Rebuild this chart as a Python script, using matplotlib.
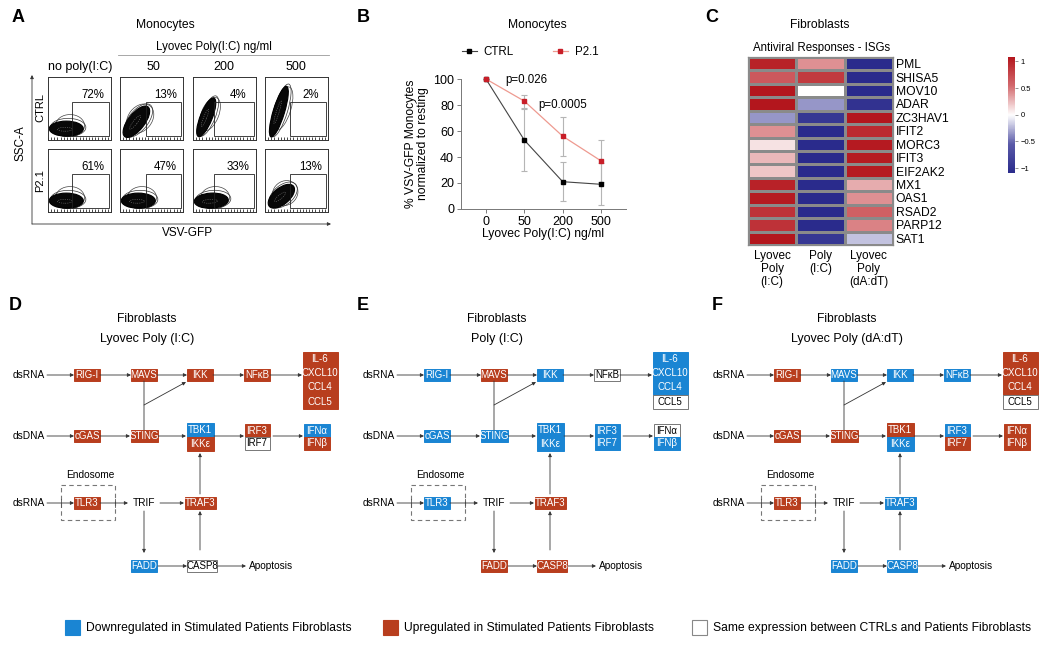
import numpy as np
import matplotlib
matplotlib.use("Agg")
import matplotlib.pyplot as plt
from matplotlib.patches import Ellipse, Rectangle
from matplotlib.colors import LinearSegmentedColormap
from matplotlib import font_manager

W, H = 1050, 647
_names = {f.name for f in font_manager.fontManager.ttflist}
MAIN = "Liberation Sans" if "Liberation Sans" in _names else "DejaVu Sans"
NARROW = "Liberation Sans Narrow" if "Liberation Sans Narrow" in _names else MAIN
plt.rcParams["font.family"] = [MAIN, "DejaVu Sans"]

# ── data ────────────────────────────────────────────────
# A: flow cytometry gates
flow_cols = ["no poly(I:C)", "50", "200", "500"]
flow_rows = ["CTRL", "P2.1"]
flow_pct = [[72, 13, 4, 2],
            [61, 47, 33, 13]]

# B: % VSV-GFP monocytes
doses = ["0", "50", "200", "500"]
ctrl_mean = [100, 53, 21, 19]
ctrl_sd = [0, 24, 15, 16]
p21_mean = [100, 83, 56, 37]
p21_sd = [0, 5, 15, 16]
p_labels = ["p=0.026", "p=0.0005"]

# C: ISG heatmap (z-scores)
isg_genes = ["PML", "SHISA5", "MOV10", "ADAR", "ZC3HAV1", "IFIT2", "MORC3",
             "IFIT3", "EIF2AK2", "MX1", "OAS1", "RSAD2", "PARP12", "SAT1"]
isg_conditions = ["Lyovec\nPoly\n(I:C)", "Poly\n(I:C)", "Lyovec\nPoly\n(dA:dT)"]
isg_z = [[1.00, 0.40, -1.10],
         [0.65, 0.85, -1.10],
         [1.10, 0.00, -1.10],
         [1.20, -0.35, -1.00],
         [-0.35, -0.95, 1.20],
         [0.40, -1.10, 0.95],
         [0.10, -1.10, 1.05],
         [0.25, -1.10, 1.05],
         [0.20, -1.10, 1.05],
         [1.00, -1.10, 0.30],
         [1.05, -1.10, 0.40],
         [0.90, -1.10, 0.60],
         [0.90, -1.10, 0.45],
         [1.20, -0.95, -0.20]]

# D/E/F: pathway node states  (D = down, U = up, S = same)
path_nodes = ["RIG-I", "MAVS", "IKK", "NFκB", "IL-6", "CXCL10", "CCL4", "CCL5",
              "cGAS", "STING", "TBK1", "IKKε", "IRF3", "IRF7", "IFNα", "IFNβ",
              "TLR3", "TRAF3", "FADD", "CASP8"]
states_d = ["U", "U", "U", "U", "U", "U", "U", "U", "U", "U",
            "D", "U", "U", "S", "D", "U", "U", "U", "D", "S"]
states_e = ["D", "U", "D", "S", "D", "D", "D", "S", "D", "D",
            "D", "D", "D", "D", "S", "D", "D", "U", "U", "U"]
states_f = ["U", "D", "D", "D", "U", "U", "U", "S", "U", "U",
            "U", "D", "D", "U", "U", "U", "U", "D", "D", "D"]
legend_labels = ["Downregulated in Stimulated Patients Fibroblasts",
                 "Upregulated in Stimulated Patients Fibroblasts",
                 "Same expression between CTRLs and Patients Fibroblasts"]

BLUE = "#1a85d3"
RED = "#b83e1e"
STATE_COL = {"D": BLUE, "U": RED, "S": "white"}


def px_axes(fig, x0, y0, x1, y1):
    return fig.add_axes([x0 / W, 1 - y1 / H, (x1 - x0) / W, (y1 - y0) / H])


fig = plt.figure(figsize=(W / 100, H / 100), dpi=100)
ov = fig.add_axes([0, 0, 1, 1])
ov.set_xlim(0, W)
ov.set_ylim(H, 0)
ov.axis("off")


def arrow(x0, y0, x1, y1, head=True, color="#333333"):
    ov.annotate("", xy=(x1, y1), xytext=(x0, y0),
                arrowprops=dict(arrowstyle="-|>" if head else "-", color=color,
                                lw=0.6, mutation_scale=5, shrinkA=0, shrinkB=0))


# panel letters
for lab, (x, y) in zip("ABCDEF", [(18, 17), (363, 17), (712, 17),
                                  (15, 305), (363, 305), (717, 305)]):
    ov.text(x, y, lab, fontsize=13, fontweight="bold", ha="center", va="center")

# ── A: flow plots ───────────────────────────────────────
ov.text(165, 25, "Monocytes", fontsize=8.7, ha="center", va="center")
ov.text(214, 47, "Lyovec Poly(I:C) ng/ml", fontsize=8.3, ha="center", va="center")
ov.plot([118, 329], [55, 55], color="#999999", lw=0.6)
for x, lab in zip([80, 153, 224, 296], flow_cols):
    ov.text(x, 67, lab, fontsize=9, ha="center", va="center")
arrow(32, 224, 32, 75)
arrow(32, 224, 331, 224)
ov.text(20, 143, "SSC-A", fontsize=8.5, rotation=90, ha="center", va="center")
ov.text(188, 233, "VSV-GFP", fontsize=8.5, ha="center", va="center")
ov.text(40, 108, flow_rows[0], fontsize=8, rotation=90, ha="center", va="center")
ov.text(40, 181, flow_rows[1], fontsize=8, rotation=90, ha="center", va="center")

col_x = [48, 120, 193, 265]
row_y = [77, 149]
gate_x = [0.38, 0.42, 0.34, 0.39]
# blob shape (cx, cy, w, h, angle) per plot
blob_shape = [[(0.29, 0.18, 0.54, 0.24, 0), (0.26, 0.29, 0.6, 0.26, 52),
               (0.21, 0.36, 0.66, 0.19, 68), (0.22, 0.45, 0.84, 0.18, 73)],
              [(0.29, 0.18, 0.54, 0.24, 0), (0.29, 0.18, 0.54, 0.24, 0),
               (0.29, 0.18, 0.54, 0.24, 3), (0.26, 0.25, 0.5, 0.26, 40)]]
for r in range(2):
    for c in range(4):
        ax = px_axes(fig, col_x[c], row_y[r], col_x[c] + 63, row_y[r] + 63)
        ax.set_xlim(0, 1)
        ax.set_ylim(0, 1)
        cx, cy, w, h, ang = blob_shape[r][c]
        ax.add_patch(Ellipse((cx + 0.06, cy + 0.05), w * 0.85, h * 1.45, angle=ang,
                             fc="none", ec="#444444", lw=0.5))
        ax.add_patch(Ellipse((cx + 0.03, cy + 0.02), w * 1.04, h * 1.2, angle=ang,
                             fc="none", ec="#333333", lw=0.5))
        ax.add_patch(Ellipse((cx, cy), w, h, angle=ang, fc="#080808", ec="black", lw=0.8))
        ax.add_patch(Ellipse((cx - 0.02, cy - 0.01), w * 0.45, h * 0.25, angle=ang,
                             fc="none", ec="#777777", lw=0.4, ls=(0, (2, 2))))
        ax.add_patch(Rectangle((gate_x[c], 0.06), 0.97 - gate_x[c], 0.54,
                               fc="none", ec="#222222", lw=0.6))
        ax.text(0.72, 0.72, f"{flow_pct[r][c]}%", fontsize=8.3, ha="center", va="center")
        ax.set_xticks(np.linspace(0, 1, 5))
        ax.set_xticks(np.linspace(0, 1, 21), minor=True)
        ax.set_yticks([])
        ax.tick_params(axis="x", which="both", direction="in", length=2, width=0.5,
                       labelbottom=False, top=False)
        for s in ax.spines.values():
            s.set_linewidth(0.7)
            s.set_color("#333333")

# ── B: line plot ────────────────────────────────────────
ax_b = px_axes(fig, 461, 79, 626, 209)
xb = np.arange(len(doses))
ax_b.errorbar(xb, ctrl_mean, yerr=ctrl_sd, fmt="none", ecolor="#b5b5b5",
              elinewidth=0.8, capsize=2, capthick=0.8, zorder=2)
ax_b.errorbar(xb, p21_mean, yerr=p21_sd, fmt="none", ecolor="#b5b5b5",
              elinewidth=0.8, capsize=2, capthick=0.8, zorder=2)
l_ctrl, = ax_b.plot(xb, ctrl_mean, color="#444444", lw=0.8, marker="s", ms=2.8,
                    mfc="black", mec="black", zorder=3, clip_on=False)
l_p21, = ax_b.plot(xb, p21_mean, color="#ee9a90", lw=0.9, marker="s", ms=3.2,
                   mfc="#c81e28", mec="#c81e28", zorder=4, clip_on=False)
ax_b.set_xlim(-0.65, 3.65)
ax_b.set_ylim(0, 100)
ax_b.set_yticks([0, 20, 40, 60, 80, 100])
ax_b.set_xticks(xb)
ax_b.set_xticklabels(doses)
ax_b.tick_params(labelsize=9, length=3, width=0.6, color="#666666", pad=2)
for s in ["top", "right"]:
    ax_b.spines[s].set_visible(False)
for s in ["left", "bottom"]:
    ax_b.spines[s].set_linewidth(0.7)
    ax_b.spines[s].set_color("#777777")
ax_b.set_xlabel("Lyovec Poly(I:C) ng/ml", fontsize=8.7, labelpad=0)
ax_b.set_ylabel("% VSV-GFP Monocytes\nnormalized to resting", fontsize=8.7,
                labelpad=3, linespacing=1.0)
ax_b.text(1.05, 99, p_labels[0], fontsize=8.3, ha="center", va="center")
ax_b.text(2.0, 80, p_labels[1], fontsize=8.3, ha="center", va="center")
ov.text(537, 25, "Monocytes", fontsize=8.7, ha="center", va="center")
ax_b.legend([l_ctrl, l_p21], ["CTRL", "P2.1"], ncol=2, loc="center",
            bbox_to_anchor=(530 / W, 1 - 52 / H), bbox_transform=fig.transFigure,
            frameon=False, fontsize=8.3, handlelength=1.3, columnspacing=3.4,
            handletextpad=0.6)

# ── C: heatmap ──────────────────────────────────────────
cmap = LinearSegmentedColormap.from_list(
    "bwr_isg", ["#2a2b8c", "#5a5aa8", "#ffffff", "#d36a6e", "#b3161d"])
ax_c = px_axes(fig, 748, 57, 893, 245)
z = np.array(isg_z)
mesh = ax_c.pcolormesh(z, cmap=cmap, vmin=-1.09, vmax=1.08,
                       edgecolors="#8a8a8a", linewidth=0.9)
ax_c.set_xlim(0, z.shape[1])
ax_c.set_ylim(z.shape[0], 0)
ax_c.set_xticks([])
ax_c.yaxis.tick_right()
ax_c.set_yticks(np.arange(len(isg_genes)) + 0.5)
ax_c.set_yticklabels(isg_genes, fontsize=8.7)
ax_c.tick_params(axis="y", length=0, pad=2)
for s in ax_c.spines.values():
    s.set_color("#8a8a8a")
    s.set_linewidth(0.9)
for i, lab in enumerate(isg_conditions):
    ov.text(748 + (i + 0.5) * 145 / 3, 250, lab, fontsize=8.5, ha="center", va="top",
            linespacing=1.1, family=[NARROW, "DejaVu Sans"])
ov.text(820, 25, "Fibroblasts", fontsize=8.7, ha="center", va="center")
ov.text(822, 48, "Antiviral Responses - ISGs", fontsize=8.3, ha="center", va="center",
        family=[NARROW, "DejaVu Sans"])
cax = px_axes(fig, 1008, 57, 1015, 173)
cb = fig.colorbar(mesh, cax=cax, ticks=[-1, -0.5, 0, 0.5, 1])
cb.ax.set_yticklabels(["−1", "−0.5", "0", "0.5", "1"])
cb.ax.tick_params(labelsize=5.5, length=2, width=0.5, pad=2, color="#666666")
cb.outline.set_visible(False)

# ── D/E/F: pathway diagrams ─────────────────────────────
layout = [  # nodes stacked, centre x, top y, width, part height
    (["RIG-I"], 87, 369, 26, 12),
    (["MAVS"], 144, 369, 26, 12),
    (["IKK"], 200, 369, 26, 12),
    (["NFκB"], 257, 369, 26, 12),
    (["IL-6", "CXCL10", "CCL4", "CCL5"], 320, 352, 35, 14.2),
    (["cGAS"], 87, 430, 26, 12),
    (["STING"], 144, 430, 27, 12),
    (["TBK1", "IKKε"], 200, 423, 27, 14),
    (["IRF3", "IRF7"], 257, 424, 25, 13),
    (["IFNα", "IFNβ"], 317, 424, 26, 13),
    (["TLR3"], 87, 497, 26, 12),
    (["TRAF3"], 200, 497, 31, 12),
    (["FADD"], 144, 560, 26, 12),
    (["CASP8"], 202, 560, 30, 12),
]
TXT = dict(family=[NARROW, "DejaVu Sans"])


def draw_pathway(ox, states, subtitle):
    st = dict(zip(path_nodes, states))
    ov.text(ox + 147, 319, "Fibroblasts", fontsize=8.7, ha="center", va="center")
    ov.text(ox + 147, 339, subtitle, fontsize=9, ha="center", va="center", **TXT)
    for names, cx, top, w, ph in layout:
        for k, n in enumerate(names):
            fc = STATE_COL[st[n]]
            ec = "#777777" if st[n] == "S" else fc
            ov.add_patch(Rectangle((ox + cx - w / 2, top + k * ph), w, ph, fc=fc,
                                   ec=ec, lw=0.7, zorder=3))
            ov.text(ox + cx, top + (k + 0.5) * ph, n, fontsize=7, ha="center",
                    va="center", color="black" if st[n] == "S" else "white",
                    zorder=4, **TXT)
    for lab, x, y in [("dsRNA", 29, 375), ("dsDNA", 29, 436), ("dsRNA", 29, 503),
                      ("TRIF", 144, 503)]:
        ov.text(ox + x, y, lab, fontsize=7.3, ha="center", va="center", **TXT)
    ov.text(ox + 249, 566, "Apoptosis", fontsize=7.3, ha="left", va="center", **TXT)
    ov.text(ox + 90, 475, "Endosome", fontsize=7.3, ha="center", va="center", **TXT)
    ov.add_patch(Rectangle((ox + 61, 485), 54, 35, fc="none", ec="#777777", lw=0.8,
                           ls=(0, (4, 3))))
    for x in [61, 115]:
        ov.plot([ox + x, ox + x], [499, 507], color="#555555", lw=0.6)
    for x0, y0, x1, y1 in [(47, 375, 74, 375), (100, 375, 131, 375), (157, 375, 187, 375),
                           (213, 375, 244, 375), (270, 375, 302, 375),
                           (47, 436, 74, 436), (100, 436, 130, 436), (158, 436, 186, 436),
                           (214, 436, 244, 436), (273, 436, 303, 436),
                           (144, 405, 186, 382),
                           (47, 503, 74, 503), (100, 503, 128, 503), (160, 503, 184, 503),
                           (200, 494, 200, 453), (144, 511, 144, 553),
                           (158, 566, 187, 566), (218, 566, 246, 566),
                           (200, 550, 200, 511)]:
        arrow(ox + x0, y0, ox + x1, y1)
    arrow(ox + 144, 430, ox + 144, 381, head=False)


draw_pathway(0, states_d, "Lyovec Poly (I:C)")
draw_pathway(350, states_e, "Poly (I:C)")
draw_pathway(700, states_f, "Lyovec Poly (dA:dT)")

# ── bottom legend ───────────────────────────────────────
for (x, fc, ec), lab in zip([(65, BLUE, BLUE), (383, RED, RED), (692, "white", "#888888")],
                            legend_labels):
    ov.add_patch(Rectangle((x, 620), 15, 15, fc=fc, ec=ec, lw=0.8))
    ov.text(x + 21, 627.5, lab, fontsize=8.7, ha="left", va="center", **TXT)

fig.savefig("out.png", dpi=100)
plt.close(fig)
